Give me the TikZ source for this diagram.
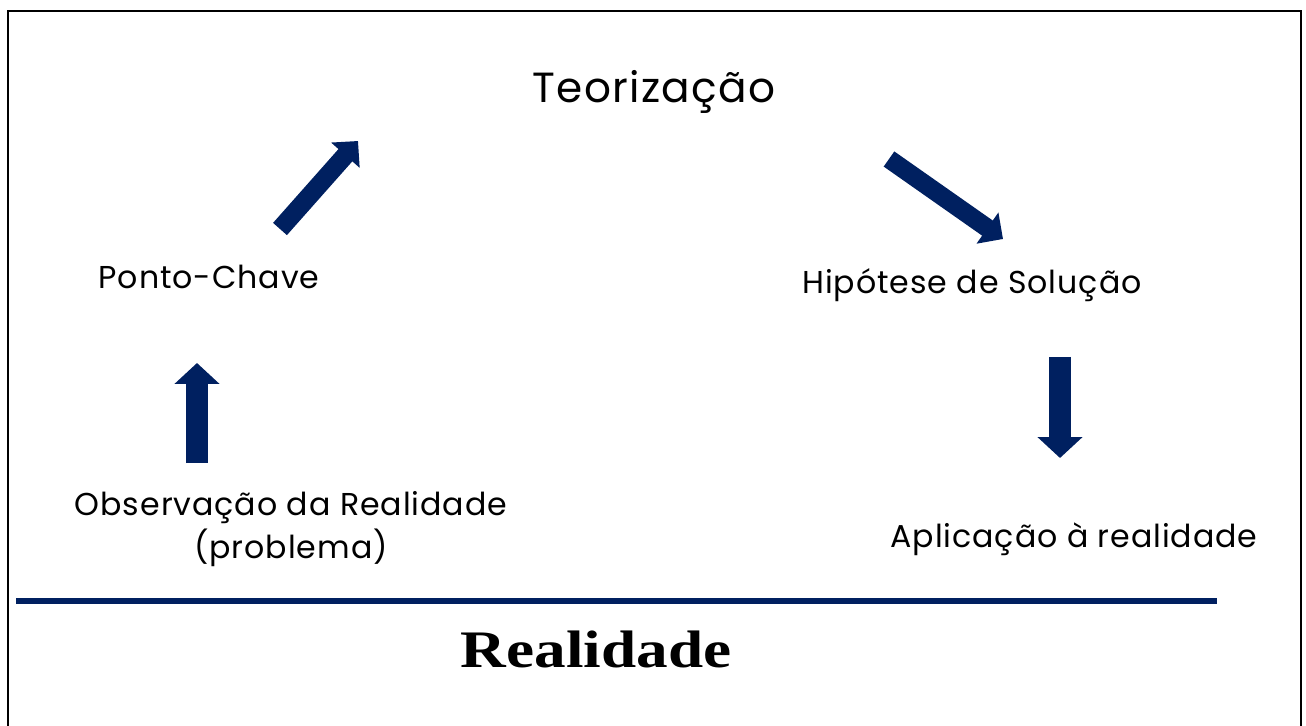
\documentclass[tikz,border=0pt]{standalone}
\usepackage{fontspec}
\setmainfont{Poppins}[LetterSpace=3]
\newfontfamily\headfont{Liberation Serif}
\usetikzlibrary{arrows.meta}
\definecolor{navy}{HTML}{002060}
\begin{document}
\begin{tikzpicture}[x=0.02cm, y=-0.02cm,
		lbl/.style={inner sep=0pt, font=\fontsize{18}{24.5}\selectfont},
		blockarrow/.style={navy, line width=0.44cm, -{Triangle[width=0.88cm, length=0.42cm]}},
		slantarrow/.style={navy, line width=0.37cm, -{Triangle[width=0.74cm, length=0.38cm]}}]
		\useasboundingbox (0,0) rectangle (1306,726);
		\draw[line width=0.05cm] (8,726) -- (8,11) -- (1301,11) -- (1301,726);
		% stages
		\node[lbl, anchor=base, font=\fontsize{24}{28}\selectfont] (teo) at (654,103) {Teorização};
		\node[lbl, anchor=base] (chave) at (209,289) {Ponto-Chave};
		\node[lbl, anchor=base] (hipo) at (972,294) {Hipótese de Solução};
		\node[lbl, anchor=base] (aplic) at (1074,547) {Aplicação à realidade};
		\node[lbl, align=center] (obs) at (291,529) {Observação da Realidade\\(problema)};
		% arrows
		\coordinate (a1s) at (197,463);
		\coordinate (a1e) at (197,363);
		\coordinate (a2s) at (280,229);
		\coordinate (a2e) at (358,141);
		\coordinate (a3s) at (889,159);
		\coordinate (a3e) at (1003,239);
		\coordinate (a4s) at (1060,357);
		\coordinate (a4e) at (1060,458);
		\draw[blockarrow] (a1s) -- (a1e);
		\draw[slantarrow] (a2s) -- (a2e);
		\draw[slantarrow] (a3s) -- (a3e);
		\draw[blockarrow] (a4s) -- (a4e);
		% reality line
		\coordinate (rl) at (16,601);
		\coordinate (rr) at (1217,601);
		\draw[navy, line width=0.12cm] (rl) -- (rr);
		\node[anchor=base, inner sep=0pt] (real) at (596,667) {\headfont\bfseries\fontsize{30}{33}\selectfont\scalebox{1.2}[1]{Realidade}};
	\end{tikzpicture}
\end{document}
